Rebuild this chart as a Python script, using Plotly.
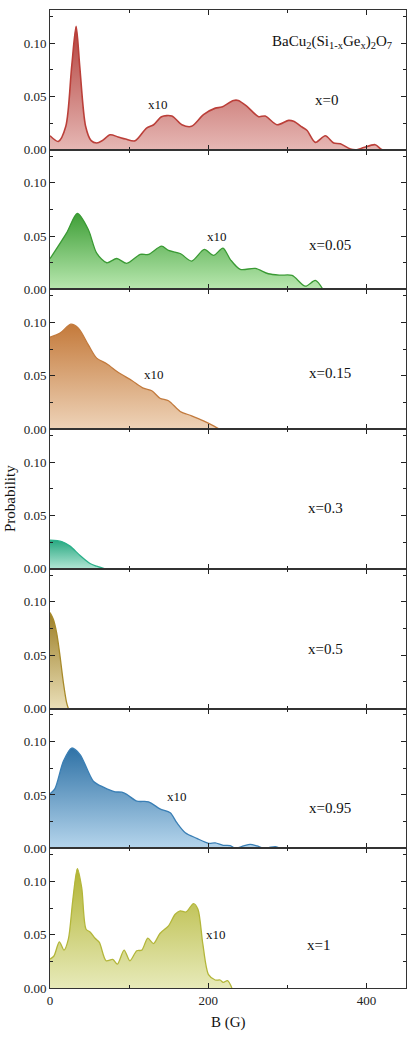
import plotly.graph_objects as go
from plotly.subplots import make_subplots

# ---- data (B in gauss, probability) ----
b_x0 = [0, 10.5, 20, 27.4, 33, 37.6, 45, 52, 59, 66, 76, 86, 95.6, 107.6, 122, 131, 141, 154, 166.7, 179,
        194, 209, 217, 232, 238, 249, 263.7, 272, 287, 301.7, 308, 318.6, 325, 335.4, 348, 358.6, 367,
        379.7, 388, 396.6, 411, 420, 450]
p_x0 = [0.0131, 0.0078, 0.022, 0.078, 0.1156, 0.078, 0.022, 0.0085, 0.0063, 0.0085, 0.014, 0.012, 0.010,
        0.0084, 0.0203, 0.0234, 0.031, 0.0316, 0.0234, 0.0219, 0.0328, 0.039, 0.040, 0.0462, 0.0462, 0.0406,
        0.031, 0.0316, 0.0234, 0.0275, 0.0266, 0.0213, 0.018, 0.0069, 0.0131, 0.0063, 0.0056, 0.0006, 0.0,
        0.002, 0.0047, 0.0, 0.0]

b_x005 = [0, 21, 34.6, 48.5, 59, 71.7, 84.4, 97, 114, 124.5, 141, 149.8, 164.6, 179, 195, 206.8, 218.6,
          228, 240.5, 259.5, 276, 291, 306, 322.8, 335.4, 345]
p_x005 = [0.0288, 0.053, 0.0712, 0.056, 0.034, 0.025, 0.029, 0.0244, 0.0328, 0.0328, 0.0406, 0.0366,
          0.0337, 0.0266, 0.0375, 0.0319, 0.0388, 0.028, 0.0188, 0.0197, 0.0147, 0.0134, 0.0131, 0.0031,
          0.0084, 0.0]

b_x015 = [0, 12.7, 26.2, 35.9, 48.5, 59, 71.7, 86.5, 103.4, 118, 128.7, 139, 149.8, 164.6, 179, 194,
          202.5, 214]
p_x015 = [0.0863, 0.090, 0.0984, 0.0947, 0.079, 0.0666, 0.0613, 0.0531, 0.0456, 0.0384, 0.036, 0.029,
          0.0266, 0.0166, 0.0125, 0.0078, 0.0047, 0.0]

b_x03 = [0, 14.8, 25.3, 38, 50.6, 59, 69.6]
p_x03 = [0.0269, 0.0256, 0.0213, 0.0125, 0.005, 0.0025, 0.0]

b_x05 = [0, 4.2, 8.4, 12.7, 16.9, 21, 23.2]
p_x05 = [0.090, 0.0838, 0.071, 0.049, 0.0244, 0.0056, 0.0]

b_x095 = [0, 6.3, 16.9, 27.4, 38, 54.8, 67.5, 82.3, 90.7, 97, 109.7, 124.5, 139, 152, 160.3, 171, 185.6,
          200.4, 208.8, 219, 227.8, 234, 244.7, 253, 261.6, 270, 276.4, 284.8, 291]
p_x095 = [0.0511, 0.056, 0.0816, 0.094, 0.0879, 0.0629, 0.0573, 0.053, 0.0526, 0.0505, 0.0442, 0.0436,
          0.037, 0.0333, 0.024, 0.0146, 0.0093, 0.0047, 0.005, 0.0028, 0.0025, 0.0, 0.0022, 0.0037, 0.0022,
          0.0, 0.0006, 0.0016, 0.0]

b_x1 = [0, 5, 11.8, 17.7, 23.2, 28.7, 34.6, 40.1, 45.6, 50.6, 57, 62.4, 70.9, 79.3, 85.2, 93.7, 101,
        109.7, 116, 123.6, 130.8, 139, 149.8, 158.2, 164.6, 172, 181.4, 187, 193.2, 200.4, 208.8, 215,
        219, 224.4, 229.9]
p_x1 = [0.0271, 0.030, 0.0433, 0.0355, 0.0458, 0.0816, 0.112, 0.094, 0.0551, 0.0526, 0.0467, 0.0427,
        0.0255, 0.0268, 0.0224, 0.0355, 0.0255, 0.0349, 0.0355, 0.0467, 0.0417, 0.0511, 0.0583, 0.0692,
        0.0723, 0.0713, 0.0791, 0.0738, 0.0411, 0.0125, 0.0075, 0.0075, 0.0053, 0.0069, 0.0]

series_labels = ["x=0", "x=0.05", "x=0.15", "x=0.3", "x=0.5", "x=0.95", "x=1"]
series_b = [b_x0, b_x005, b_x015, b_x03, b_x05, b_x095, b_x1]
series_p = [p_x0, p_x005, p_x015, p_x03, p_x05, p_x095, p_x1]
x10_shown = [True, True, True, False, False, True, True]

line_colors = ["#bb3f39", "#3a9a34", "#c27a3d", "#2bb08a", "#a88a2a", "#3a7fb5", "#b3b63a"]
top_colors = ["#b3403b", "#3f9f37", "#c47a3b", "#27a880", "#9c7e25", "#2f72a6", "#b2b433"]
bot_colors = ["#e6b8b5", "#b9e8b0", "#eed3b8", "#b2e6d5", "#eadfb8", "#b5d5ec", "#e7eab9"]

# label positions (data coords)
lab_pos = [(350, 0.047), (354, 0.042), (354, 0.0525), (348, 0.057), (348, 0.056), (354, 0.0374), (339, 0.040)]
x10_pos = [(136, 0.042), (211, 0.050), (131, 0.0516), None, None, (160, 0.049), (210, 0.0505)]

FONT = "Liberation Serif"
n = len(series_b)

fig = make_subplots(rows=n, cols=1, shared_xaxes=True, vertical_spacing=0)

for i in range(n):
    r = i + 1
    fig.add_trace(go.Scatter(
        x=series_b[i], y=series_p[i], mode="lines",
        line=dict(color=line_colors[i], width=1.6 if i == 0 else 1.3, shape="spline", smoothing=0.8),
        fill="tozeroy",
        fillgradient=dict(type="vertical", colorscale=[[0, bot_colors[i]], [1, top_colors[i]]]),
        showlegend=False, hoverinfo="skip"), row=r, col=1)

    fig.update_xaxes(range=[0, 450], dtick=200, tick0=0, ticks="inside", ticklen=5, tickwidth=1,
                     tickcolor="#222", showline=True, linecolor="#333", linewidth=1, mirror="ticks",
                     showgrid=False, zeroline=False, automargin=False,
                     minor=dict(ticks="inside", ticklen=3, dtick=100, tick0=0, tickcolor="#222", showgrid=False),
                     showticklabels=(r == n),
                     tickfont=dict(family=FONT, size=13, color="#222"), row=r, col=1)
    fig.update_yaxes(range=[0, 0.131], dtick=0.05, tick0=0, tickformat=".2f", ticks="inside", ticklen=5,
                     tickwidth=1, tickcolor="#222", showline=True, linecolor="#333", linewidth=1,
                     mirror="ticks", showgrid=False, zeroline=False, automargin=False,
                     minor=dict(ticks="inside", ticklen=3, dtick=0.025, tick0=0, tickcolor="#222", showgrid=False),
                     tickfont=dict(family=FONT, size=13, color="#222"), row=r, col=1)

    xref = "x" if r == 1 else f"x{r}"
    yref = "y" if r == 1 else f"y{r}"
    fig.add_annotation(x=lab_pos[i][0], y=lab_pos[i][1], xref=xref, yref=yref, text=series_labels[i],
                       showarrow=False, font=dict(family=FONT, size=15, color="#111"))
    if x10_shown[i]:
        fig.add_annotation(x=x10_pos[i][0], y=x10_pos[i][1], xref=xref, yref=yref, text="x10",
                           showarrow=False, font=dict(family=FONT, size=13, color="#111"))

fig.add_annotation(x=357, y=0.101, xref="x", yref="y",
                   text="BaCu<sub>2</sub>(Si<sub>1-x</sub>Ge<sub>x</sub>)<sub>2</sub>O<sub>7</sub>",
                   showarrow=False, font=dict(family=FONT, size=15, color="#111"))

fig.add_annotation(x=0, y=0.5, xref="paper", yref="paper", xanchor="center", yanchor="middle",
                   xshift=-40, text="Probability", textangle=-90,
                   showarrow=False, font=dict(family=FONT, size=15, color="#111"))
fig.add_annotation(x=0.5, y=0, xref="paper", yref="paper", xanchor="center", yanchor="middle",
                   yshift=-34, text="B (G)",
                   showarrow=False, font=dict(family=FONT, size=15, color="#111"))

fig.update_layout(width=415, height=1048, margin=dict(l=50, r=9, t=10, b=60),
                  paper_bgcolor="white", plot_bgcolor="white", font=dict(family=FONT))

# remove the browser's default 8px body margin so the figure fills the window exactly
fig.write_html("out.html", config={"displayModeBar": False},
               post_script="document.body.style.margin='0';")
